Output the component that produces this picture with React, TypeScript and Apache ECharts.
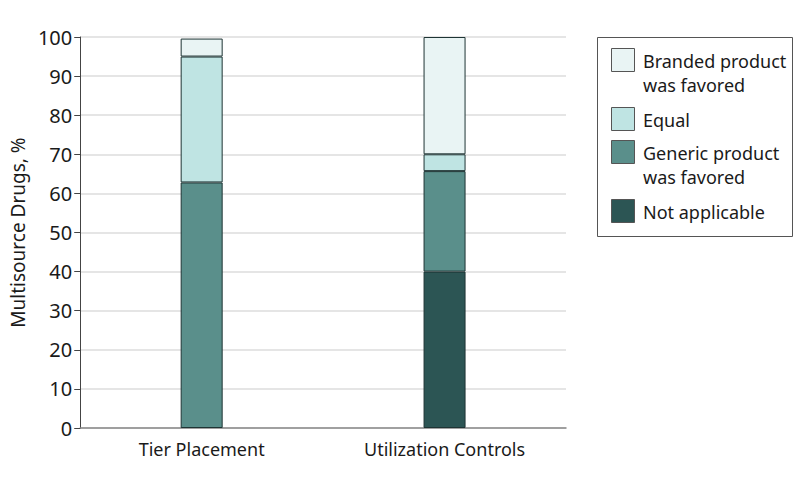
import React, { useEffect, useRef } from "react";
import * as echarts from "echarts";

const categories = ["Tier Placement", "Utilization Controls"];
const seriesNames = [
  "Not applicable",
  "Generic product was favored",
  "Equal",
  "Branded product was favored",
];
const notApplicable = [null, 40];
const genericFavored = [62.8, 25.7];
const equalVals = [32.2, 4.3];
const brandedFavored = [4.6, 30];
const colors = ["#2c5554", "#5a8f8b", "#bfe4e3", "#e9f4f4"];
const legendLabels = [
  ["Branded product", "was favored"],
  ["Equal"],
  ["Generic product", "was favored"],
  ["Not applicable"],
];
const legendColors = ["#e9f4f4", "#bfe4e3", "#5a8f8b", "#2c5554"];

const FONT = "'Noto Sans', sans-serif";

export default function App() {
  const ref = useRef<HTMLDivElement>(null);
  useEffect(() => {
    if (!ref.current) return;
    const chart = echarts.init(ref.current, null, { renderer: "svg" });
    const dataArrays = [notApplicable, genericFavored, equalVals, brandedFavored];
    const legendY = [48, 107, 140, 199];
    const graphics: any[] = [
      {
        type: "rect",
        shape: { x: 597.5, y: 37.5, width: 195, height: 199 },
        style: { fill: "#fff", stroke: "#555", lineWidth: 1 },
      },
    ];
    legendLabels.forEach((lines, i) => {
      graphics.push({
        type: "rect",
        shape: { x: 611.5, y: legendY[i] + 0.5, width: 23, height: 23 },
        style: { fill: legendColors[i], stroke: "#555", lineWidth: 1 },
      });
      lines.forEach((t, j) => {
        graphics.push({
          type: "text",
          x: 643,
          y: legendY[i] + 13 + j * 24,
          style: {
            text: t,
            font: `18px ${FONT}`,
            fill: "#1a1a1a",
            verticalAlign: "middle",
            align: "left",
          },
        });
      });
    });
    chart.setOption({
      animation: false,
      textStyle: { fontFamily: FONT },
      grid: { left: 72, right: 232, top: 37, bottom: 55 },
      xAxis: {
        type: "category",
        data: categories,
        axisLine: { lineStyle: { color: "#888", width: 1.5 } },
        axisTick: { show: false },
        axisLabel: { fontSize: 18, color: "#1a1a1a", margin: 12, fontFamily: FONT },
      },
      yAxis: {
        type: "value",
        min: 0,
        max: 100,
        interval: 10,
        name: "Multisource Drugs, %",
        nameLocation: "middle",
        nameGap: 51,
        nameTextStyle: { fontSize: 19, color: "#1a1a1a", fontFamily: FONT },
        axisLine: { show: true, lineStyle: { color: "#444" } },
        axisTick: { show: true, length: 6, lineStyle: { color: "#444" } },
        axisLabel: { fontSize: 20, color: "#1a1a1a", margin: 8, fontFamily: FONT },
        splitLine: { lineStyle: { color: "#dcdcdc", width: 1.5 } },
      },
      series: seriesNames.map((name, i) => ({
        name,
        type: "bar",
        stack: "total",
        barWidth: 42,
        data: dataArrays[i],
        itemStyle: { color: colors[i], borderColor: "#1e3434", borderWidth: 1 },
      })),
      graphic: graphics,
    });
    return () => chart.dispose();
  }, []);
  return (
    <div
      ref={ref}
      style={{ position: "absolute", left: 0, top: 0, width: 798, height: 483 }}
    />
  );
}
